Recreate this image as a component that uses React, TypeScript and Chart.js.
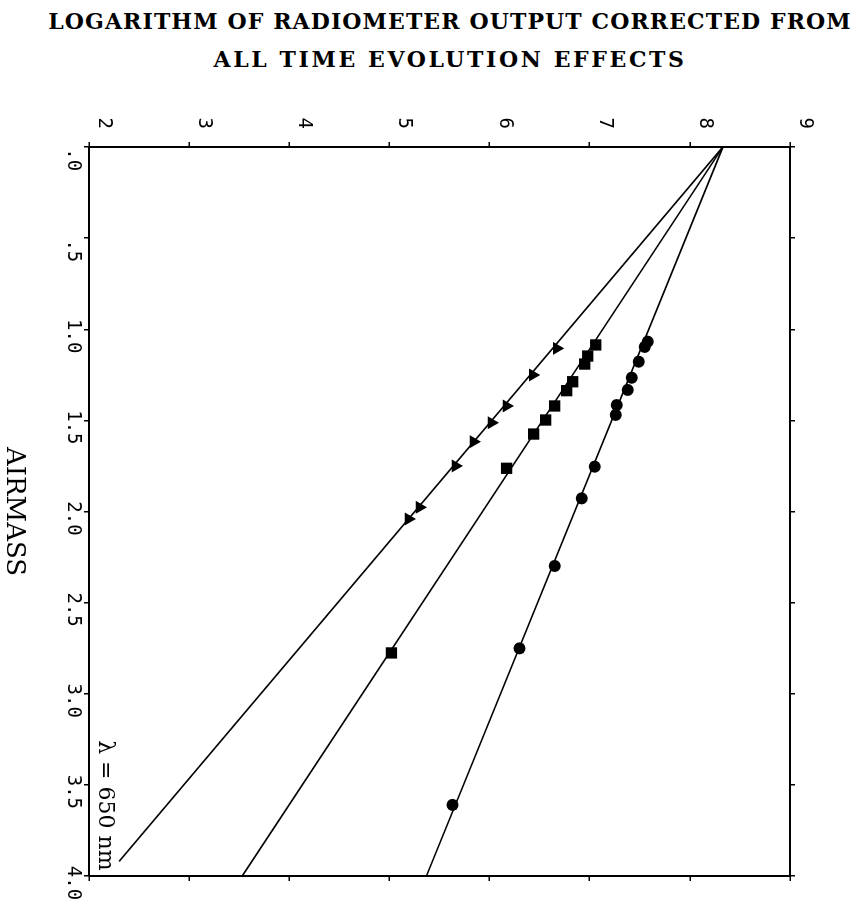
import React, { useEffect, useRef } from 'react';
import { Chart, registerables } from 'chart.js';

Chart.register(...registerables);

// ---- text ----
const titleLines = ['LOGARITHM OF RADIOMETER OUTPUT CORRECTED FROM', 'ALL TIME EVOLUTION EFFECTS'];
const titleSpacing = [1.1, 2.6];
const airmassTitle = 'AIRMASS';
const lambdaLabel = 'λ = 650 nm';
const lambdaAirmass = 3.97;
const lambdaLog = 2.16;

// ---- ticks ----
const airmassTicks = [0, 0.5, 1, 1.5, 2, 2.5, 3, 3.5, 4];
const airmassTickLabels = [' .0', ' .5', '1.0', '1.5', '2.0', '2.5', '3.0', '3.5', '4.0'];
const logTicks = [2, 3, 4, 5, 6, 7, 8, 9];
const logTickLabels = ['2', '3', '4', '5', '6', '7', '8', '9'];

// ---- measured points (airmass, log output) ----
const circleAirmass = [1.068, 1.097, 1.178, 1.266, 1.333, 1.416, 1.47, 1.754, 1.928, 2.299, 2.751, 3.61];
const circleLog = [7.58, 7.55, 7.49, 7.42, 7.38, 7.27, 7.26, 7.05, 6.92, 6.65, 6.3, 5.63];
const squareAirmass = [1.086, 1.147, 1.191, 1.288, 1.337, 1.421, 1.498, 1.575, 1.763, 2.776];
const squareLog = [7.06, 6.98, 6.95, 6.83, 6.77, 6.65, 6.56, 6.44, 6.17, 5.02];
const triangleAirmass = [1.105, 1.251, 1.421, 1.513, 1.617, 1.75, 1.977, 2.041];
const triangleLog = [6.67, 6.43, 6.17, 6.02, 5.84, 5.66, 5.3, 5.19];

// ---- fitted lines (end points) ----
const circleFitAirmass = [0, 4];
const circleFitLog = [8.33, 5.37];
const squareFitAirmass = [0, 4];
const squareFitLog = [8.33, 3.53];
const triangleFitAirmass = [0, 3.92];
const triangleFitLog = [8.33, 2.3];

const pts = (xs: number[], ys: number[]) => xs.map((x, i) => ({ x, y: ys[i] }));

// unrotated canvas size (the canvas is turned 90deg clockwise on screen)
const CW = 827;
const CH = 864;

const lambdaPlugin = {
  id: 'lambdaLabel',
  afterDatasetsDraw(chart: any) {
    const { ctx, scales } = chart;
    ctx.save();
    ctx.font = '22px "DejaVu Serif"';
    ctx.fillStyle = '#000';
    ctx.textAlign = 'right';
    ctx.textBaseline = 'middle';
    ctx.fillText(lambdaLabel, scales.x.getPixelForValue(lambdaAirmass), scales.y.getPixelForValue(lambdaLog));
    ctx.restore();
  },
};

export default function App() {
  const ref = useRef<HTMLCanvasElement | null>(null);

  useEffect(() => {
    if (!ref.current) return;
    const monoFont = { family: '"DejaVu Sans Mono", monospace', size: 19 };
    const gridOpts = { drawOnChartArea: false, drawTicks: true, tickLength: 5, color: '#000', lineWidth: 1.5 };
    const borderOpts = { display: true, color: '#000', width: 2 };
    const lineDs = (xs: number[], ys: number[]) => ({
      type: 'scatter' as const,
      data: pts(xs, ys),
      showLine: true,
      borderColor: '#000',
      borderWidth: 1.6,
      pointRadius: 0,
      fill: false,
      xAxisID: 'x',
      yAxisID: 'y',
    });
    const markDs = (xs: number[], ys: number[], style: string, r: number) => ({
      type: 'scatter' as const,
      data: pts(xs, ys),
      showLine: false,
      pointStyle: style,
      pointRadius: r,
      backgroundColor: '#000',
      borderColor: '#000',
      borderWidth: 0,
      xAxisID: 'x',
      yAxisID: 'y',
    });

    const chart = new Chart(ref.current, {
      type: 'scatter',
      data: {
        datasets: [
          lineDs(circleFitAirmass, circleFitLog),
          lineDs(squareFitAirmass, squareFitLog),
          lineDs(triangleFitAirmass, triangleFitLog),
          markDs(circleAirmass, circleLog, 'circle', 6),
          markDs(squareAirmass, squareLog, 'rect', 8),
          markDs(triangleAirmass, triangleLog, 'triangle', 7.5),
        ] as any,
      },
      options: {
        animation: false,
        responsive: false,
        devicePixelRatio: 1,
        layout: { padding: 0 },
        plugins: {
          legend: { display: false },
          tooltip: { enabled: false },
          title: { display: false },
        },
        scales: {
          x: {
            type: 'linear',
            position: 'bottom',
            min: 0,
            max: 4,
            afterBuildTicks: (s: any) => {
              s.ticks = airmassTicks.map((v) => ({ value: v }));
            },
            afterFit: (s: any) => {
              s.height = 89;
            },
            ticks: {
              callback: (_v: any, i: number) => airmassTickLabels[i],
              font: monoFont,
              color: '#000',
              padding: 0,
              labelOffset: 7,
              autoSkip: false,
              minRotation: 0,
              maxRotation: 0,
            },
            grid: gridOpts,
            border: borderOpts,
            title: {
              display: true,
              text: airmassTitle,
              color: '#000',
              font: { family: '"DejaVu Serif", serif', size: 26, lineHeight: 1 },
              padding: { top: 0, bottom: 1 },
            },
          },
          x2: {
            type: 'linear',
            position: 'top',
            min: 0,
            max: 4,
            afterBuildTicks: (s: any) => {
              s.ticks = airmassTicks.map((v) => ({ value: v }));
            },
            afterFit: (s: any) => {
              s.height = 74;
            },
            ticks: { display: false },
            grid: gridOpts,
            border: borderOpts,
          },
          y: {
            type: 'linear',
            position: 'left',
            min: 2,
            max: 9,
            afterBuildTicks: (s: any) => {
              s.ticks = logTicks.map((v) => ({ value: v }));
            },
            afterFit: (s: any) => {
              s.width = 67;
            },
            ticks: {
              callback: (_v: any, i: number) => logTickLabels[i],
              font: monoFont,
              color: '#000',
              padding: 13,
              labelOffset: -15,
              autoSkip: false,
            },
            grid: gridOpts,
            border: borderOpts,
          },
          y2: {
            type: 'linear',
            position: 'right',
            min: 2,
            max: 9,
            afterBuildTicks: (s: any) => {
              s.ticks = logTicks.map((v) => ({ value: v }));
            },
            afterFit: (s: any) => {
              s.width = 31;
            },
            ticks: { display: false },
            grid: gridOpts,
            border: borderOpts,
          },
        },
      } as any,
      plugins: [lambdaPlugin],
    });
    return () => chart.destroy();
  }, []);

  return (
    <div
      style={{
        position: 'fixed',
        left: 0,
        top: 0,
        width: 864,
        height: 907,
        overflow: 'hidden',
        background: '#fff',
      }}
    >
      <div
        style={{
          position: 'absolute',
          left: 36,
          top: 1.5,
          width: 828,
          textAlign: 'center',
          fontFamily: '"DejaVu Serif", serif',
          fontWeight: 'bold',
          fontSize: 22,
          lineHeight: '38.8px',
          color: '#000',
          whiteSpace: 'nowrap',
        }}
      >
        {titleLines.map((t, i) => (
          <div key={t} style={{ letterSpacing: titleSpacing[i] }}>
            {t}
          </div>
        ))}
      </div>
      <canvas
        ref={ref}
        width={CW}
        height={CH}
        style={{
          position: 'absolute',
          left: 0,
          top: 80,
          width: CW,
          height: CH,
          transformOrigin: '0 0',
          transform: `translate(${CH}px, 0px) rotate(90deg)`,
        }}
      />
    </div>
  );
}
